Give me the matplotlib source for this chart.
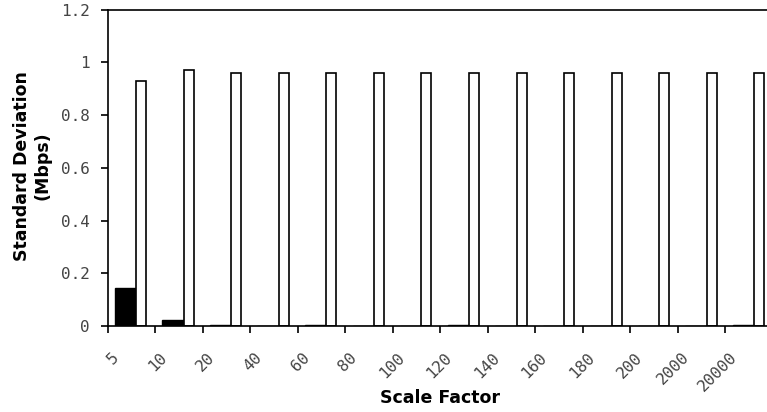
import numpy as np
import matplotlib
matplotlib.use("Agg")
import matplotlib.pyplot as plt
from matplotlib.transforms import ScaledTranslation

# scale factors on the x axis
scale_factors = ["5", "10", "20", "40", "60", "80", "100", "120", "140", "160",
                 "180", "200", "2000", "20000"]
# standard deviation (Mbps) for the two series
std_black = [0.145, 0.023, 0.005, 0.0, 0.003, 0.0, 0.001, 0.004, 0.0, 0.0,
             0.0, 0.0, 0.0, 0.004]
std_white = [0.928, 0.972, 0.959, 0.958, 0.958, 0.958, 0.958, 0.958, 0.958, 0.958,
             0.958, 0.958, 0.958, 0.958]
y_ticks = [0, 0.2, 0.4, 0.6, 0.8, 1.0, 1.2]
y_tick_labels = ["0", "0.2", "0.4", "0.6", "0.8", "1", "1.2"]

W, H = 767, 412
fig = plt.figure(figsize=(W / 100, H / 100), dpi=100)
ax = fig.add_axes([107.5 / W, 1 - 326 / H, (773 - 107.5) / W, (326 - 9.7) / H])

x = np.arange(len(scale_factors))
ax.bar(x + 0.155, std_black, width=0.45, align="edge",
       color="black", edgecolor="black", linewidth=1.0)
ax.bar(x + 0.605, std_white, width=0.21, align="edge",
       color="white", edgecolor="black", linewidth=1.2)

ax.set_xlim(0, len(scale_factors))
ax.set_ylim(0, 1.2)

for side in ["left", "bottom", "top"]:
    ax.spines[side].set_linewidth(1.2)
ax.spines["right"].set_visible(False)

tick_font = dict(family="DejaVu Sans Mono", size=11.5, color="#444444")

# y axis
ax.set_yticks(y_ticks)
ax.set_yticklabels(y_tick_labels, **tick_font)
ax.tick_params(axis="y", direction="out", length=5, width=1.2, pad=8)

# x axis: ticks on category boundaries, labels in the middle
ax.set_xticks(np.arange(len(scale_factors) + 1))
ax.set_xticklabels([])
ax.tick_params(axis="x", which="major", direction="out", length=5, width=1.2)
ax.set_xticks(x + 0.5, minor=True)
ax.set_xticklabels(scale_factors, minor=True, rotation=45, ha="right", va="top",
                   **tick_font)
ax.tick_params(axis="x", which="minor", length=0, pad=17)
shift = ScaledTranslation(-9 / 100, 0, fig.dpi_scale_trans)
for lbl in ax.get_xticklabels(minor=True):
    lbl.set_transform(lbl.get_transform() + shift)

label_font = dict(family="DejaVu Sans", weight="bold", size=12.5, color="black")
fig.text(440 / W, 1 - 403 / H, "Scale Factor", ha="center", va="baseline",
         **label_font)
fig.text(32 / W, 1 - 166 / H, "Standard Deviation\n(Mbps)", rotation=90,
         ha="center", va="center", multialignment="center", **label_font)

fig.savefig("out.png", dpi=100)
